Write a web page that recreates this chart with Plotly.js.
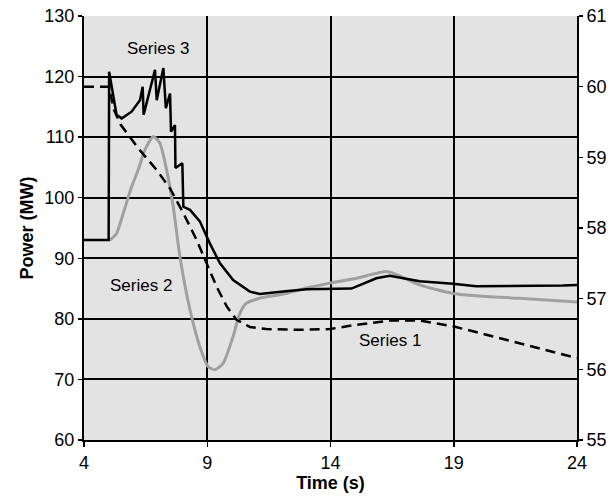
<!DOCTYPE html>
<html><head><meta charset="utf-8">
<script src="https://cdn.plot.ly/plotly-3.0.1.min.js"></script>
<style>html,body{margin:0;padding:0;background:#fff}</style>
</head><body>
<div id="chart" style="width:610px;height:501px"></div>
<script>
// Series 3 (solid black, left axis, MW)
const t3 = [4, 5.0, 5.02, 5.32, 5.53, 5.93, 6.27, 6.38, 6.42, 6.88, 6.95, 7.22, 7.32, 7.49, 7.53, 7.69, 7.71, 7.99, 8.03, 8.3, 8.7, 9.1, 9.51, 10.05, 10.73, 11.13, 12.08, 13.03, 14.85, 15.86, 16.4, 17.62, 18.97, 19.91, 23.43, 24];
const v3 = [93, 93, 120.8, 113.7, 113.1, 114.2, 116.1, 118.3, 113.7, 121.1, 116.1, 121.4, 114.8, 117.2, 110.9, 112, 104.9, 105.7, 98.5, 98, 96.1, 92.5, 89.2, 86.4, 84.5, 84.1, 84.5, 84.9, 85, 86.7, 87.1, 86.2, 85.8, 85.4, 85.5, 85.6];
// Series 2 (grey, left axis, MW)
const t2 = [5.05, 5.32, 5.59, 5.93, 6.2, 6.47, 6.81, 7.08, 7.35, 7.62, 7.89, 8.3, 8.7, 9.04, 9.31, 9.65, 10.05, 10.32, 10.59, 11.13, 12.08, 13.03, 13.97, 15.05, 16.27, 16.68, 17.62, 18.97, 20.32, 21.67, 24];
const v2 = [93, 94.1, 97.4, 101.8, 104.6, 107.9, 110.1, 109, 104.6, 98.5, 90.3, 81.5, 75.4, 72.1, 71.6, 72.7, 77.1, 80.9, 82.6, 83.4, 84.1, 85.1, 85.9, 86.7, 87.8, 87.3, 85.6, 84.2, 83.7, 83.4, 82.8];
// Series 1 (dashed, right axis)
const t1 = [4, 5.0, 5.22, 5.49, 6.27, 6.95, 7.49, 8.03, 8.57, 8.97, 9.38, 9.79, 10.19, 10.73, 11.4, 12.76, 13.97, 15.05, 16.4, 17.62, 18.97, 20.32, 21.67, 23.84, 24];
const f1 = [60.0, 60.0, 59.67, 59.46, 59.1, 58.82, 58.56, 58.21, 57.83, 57.5, 57.17, 56.89, 56.7, 56.6, 56.57, 56.56, 56.57, 56.63, 56.69, 56.69, 56.61, 56.49, 56.37, 56.18, 56.16];

const xTicks = [4, 9, 14, 19, 24];
const yTicksLeft = [60, 70, 80, 90, 100, 110, 120, 130];
const yTicksRight = [55, 56, 57, 58, 59, 60, 61];
const seriesNames = ['Series 1', 'Series 2', 'Series 3'];

const FONT = 'Liberation Sans, Arial, sans-serif';

const traces = [
  {x: t2, y: v2, type: 'scatter', mode: 'lines', name: seriesNames[1],
   line: {color: '#a0a0a0', width: 3, shape: 'spline', smoothing: 0.6}, yaxis: 'y'},
  {x: t1, y: f1, type: 'scatter', mode: 'lines', name: seriesNames[0],
   line: {color: '#000', width: 2.5, dash: '10px,6px'}, yaxis: 'y2'},
  {x: t3, y: v3, type: 'scatter', mode: 'lines', name: seriesNames[2],
   line: {color: '#000', width: 2.5}, yaxis: 'y'}
];

const layout = {
  width: 610, height: 501,
  margin: {l: 84, r: 33, t: 16, b: 61},
  paper_bgcolor: '#fff',
  plot_bgcolor: '#e3e3e3',
  showlegend: false,
  font: {family: FONT, size: 17, color: '#000'},
  xaxis: {
    range: [4, 24], tickvals: xTicks, ticktext: xTicks.map(String),
    showgrid: true, gridcolor: '#000', gridwidth: 2,
    zeroline: false, showline: true, linecolor: '#000', linewidth: 2,
    ticks: 'outside', ticklen: 5, tickcolor: '#000', tickwidth: 1.5,
    tickfont: {family: FONT, size: 18},
    title: {text: '<b>Time (s)</b>', font: {family: FONT, size: 18}, standoff: 2}
  },
  yaxis: {
    range: [60, 130], tickvals: yTicksLeft, ticktext: yTicksLeft.map(String),
    showgrid: true, gridcolor: '#000', gridwidth: 2,
    zeroline: false, showline: true, linecolor: '#000', linewidth: 2,
    ticks: 'outside', ticklen: 4, tickcolor: '#000', tickwidth: 1.5,
    tickfont: {family: FONT, size: 18},
    title: {text: '<b>Power (MW)</b>', font: {family: FONT, size: 18}, standoff: 6}
  },
  yaxis2: {
    range: [55, 61], tickvals: yTicksRight, ticktext: yTicksRight.map(String),
    overlaying: 'y', side: 'right', showgrid: false,
    zeroline: false, showline: true, linecolor: '#000', linewidth: 2,
    ticks: 'outside', ticklen: 4, tickcolor: '#000', tickwidth: 1.5,
    tickfont: {family: FONT, size: 18}
  },
  annotations: [
    {x: 7.0, y: 124.6, xref: 'x', yref: 'y', text: seriesNames[2], showarrow: false, font: {family: FONT, size: 17}},
    {x: 6.3, y: 85.5, xref: 'x', yref: 'y', text: seriesNames[1], showarrow: false, font: {family: FONT, size: 17}},
    {x: 16.4, y: 76.5, xref: 'x', yref: 'y', text: seriesNames[0], showarrow: false, font: {family: FONT, size: 17}}
  ]
};

Plotly.newPlot('chart', traces, layout, {displayModeBar: false, staticPlot: true});
</script>
</body></html>
